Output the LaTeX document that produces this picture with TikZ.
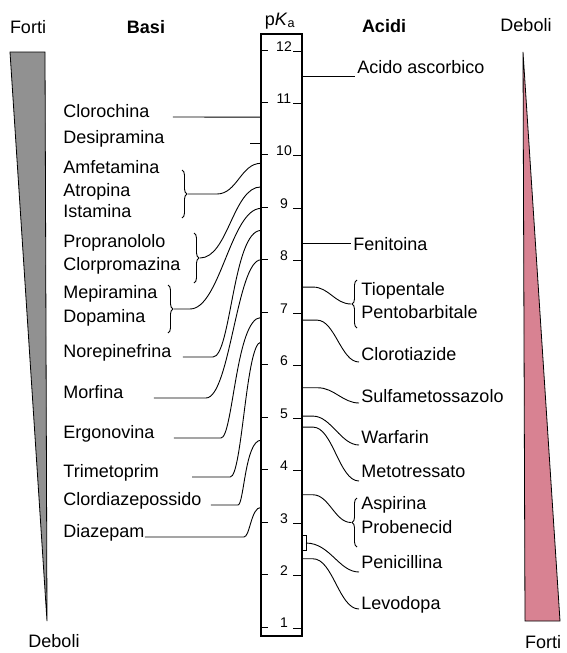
\documentclass[tikz,border=0pt]{standalone}
\usepackage{fontspec}
\setmainfont{Liberation Sans}
\usetikzlibrary{decorations.pathreplacing}
\definecolor{basegray}{RGB}{145,145,145}
\definecolor{acidpink}{RGB}{216,130,146}
\newcommand{\pky}[1]{50+(12-#1)*52.45}

\begin{document}
\begin{tikzpicture}[x=1pt, y=-1pt, line width=0.9pt,
  lbl/.style={anchor=base west, inner sep=2pt, font=\fontsize{18}{22}\selectfont},
  head/.style={anchor=base, inner sep=0pt, font=\fontsize{18}{22}\selectfont},
  num/.style={anchor=base, inner sep=0pt, font=\fontsize{14}{16}\selectfont},
  curly/.style={decorate, decoration={brace, amplitude=5pt}}]
\useasboundingbox (0,0) rectangle (566,653);

% headers
\node[head] (forti-top) at (28,33) {Forti};
\node[head, font=\fontsize{18}{22}\selectfont\bfseries] (basi) at (146,33) {Basi};
\node[head] (pka) at (280,25) {p\textit{K}\textsubscript{a}};
\node[head, font=\fontsize{18}{22}\selectfont\bfseries] (acidi) at (384,32) {Acidi};
\node[head] (deboli-top) at (526,31) {Deboli};
\node[head] (deboli-bot) at (54,647) {Deboli};
\node[head] (forti-bot) at (543,648) {Forti};

% strength wedges
\draw[line width=0.8pt, fill=basegray] (10,52) -- (45,52) -- (47,621) -- cycle;
\draw[line width=0.8pt, fill=acidpink] (523,52) -- (560,621) -- (525,621) -- cycle;

% pKa scale
\node[draw, line width=1.3pt, inner sep=0pt, minimum width=41pt, minimum height=602pt] (scale) at (281.5,335) {};
\foreach \n in {1,...,12} {
  \draw (261,{\pky{\n}}) -- ++(7,0);
  \draw (293,{\pky{\n}+1}) -- ++(9,0);
  \node[num] at (284,{\pky{\n}+1}) {\n};
}

% points on the scale, bases
\coordinate (k-cloro) at (261,{\pky{10.72}});
\coordinate (k-desi) at (261,{\pky{10.22}});
\coordinate (k-amf) at (261,{\pky{9.84}});
\coordinate (k-prop) at (261,{\pky{9.39}});
\coordinate (k-mepi) at (261,{\pky{8.98}});
\coordinate (k-nore) at (261,{\pky{8.56}});
\coordinate (k-morf) at (261,{\pky{8.0}});
\coordinate (k-ergo) at (261,{\pky{6.9}});
\coordinate (k-trim) at (261,{\pky{6.43}});
\coordinate (k-clordia) at (261,{\pky{4.56}});
\coordinate (k-diaz) at (261,{\pky{3.28}});
% points on the scale, acids
\coordinate (k-asc) at (302,{\pky{11.5}});
\coordinate (k-fen) at (302,{\pky{8.32}});
\coordinate (k-tio) at (302,{\pky{7.48}});
\coordinate (k-clot) at (302,{\pky{6.85}});
\coordinate (k-sulfa) at (302,{\pky{5.56}});
\coordinate (k-warf) at (302,{\pky{5.02}});
\coordinate (k-meto) at (302,{\pky{4.81}});
\coordinate (k-asp) at (302,{\pky{3.52}});
\coordinate (k-peni) at (306,{\pky{2.6}});
\coordinate (k-levo) at (302,{\pky{2.3}});

% bases
\node[lbl] (cloro) at (61,117) {Clorochina};
\node[lbl] (desi) at (61,143) {Desipramina};
\node[lbl] (amf) at (61,173) {Amfetamina};
\node[lbl] (atro) at (61,196) {Atropina};
\node[lbl] (ista) at (61,217) {Istamina};
\node[lbl] (prop) at (61,247) {Propranololo};
\node[lbl] (clorp) at (61,270) {Clorpromazina};
\node[lbl] (mepi) at (61,298) {Mepiramina};
\node[lbl] (dopa) at (61,322) {Dopamina};
\node[lbl] (nore) at (61,357) {Norepinefrina};
\node[lbl] (morf) at (61,398) {Morfina};
\node[lbl] (ergo) at (61,438) {Ergonovina};
\node[lbl] (trim) at (61,477) {Trimetoprim};
\node[lbl] (clordia) at (61,505) {Clordiazepossido};
\node[lbl] (diaz) at (61,537) {Diazepam};

\draw[curly] (182,170) -- (182,218);
\coordinate (amf-tip) at (188,194);
\draw[curly] (194,233) -- (194,283);
\coordinate (prop-tip) at (200,258);
\draw[curly] (168,285) -- (168,333);
\coordinate (mepi-tip) at (174,309);

\draw ([xshift=21pt]cloro.base east) -- (k-cloro);
\draw (k-desi) -- ++(-11,0);
\draw (amf-tip) -- ++(29,0) .. controls +(20,0) and +(-20,0) .. (k-amf);
\draw (prop-tip) .. controls +(28,0) and +(-28,0) .. (k-prop);
\draw (mepi-tip) -- ++(16,0) .. controls +(30,0) and +(-30,0) .. (k-mepi);
\draw ([xshift=9pt]nore.base east) -- ++(30,0) .. controls +(18,0) and +(-28,0) .. (k-nore);
\draw ([xshift=28pt]morf.base east) -- ++(52,0) .. controls +(24,0) and +(-24,0) .. (k-morf);
\draw ([xshift=17pt]ergo.base east) -- ++(47,0) .. controls +(12,0) and +(-25,0) .. (k-ergo);
\draw ([xshift=31pt]trim.base east) -- ++(38,0) .. controls +(12,0) and +(-15,0) .. (k-trim);
\draw ([xshift=7pt]clordia.base east) -- ++(27,0) .. controls +(6,0) and +(-16,0) .. (k-clordia);
\draw ([xshift=-2pt]diaz.base east) -- ++(99,0) .. controls +(6,0) and +(-10,0) .. (k-diaz);

% acids
\node[lbl] (asc) at (355,73) {Acido ascorbico};
\node[lbl] (fen) at (351,250) {Fenitoina};
\node[lbl] (tio) at (359,295) {Tiopentale};
\node[lbl] (pento) at (359,318) {Pentobarbitale};
\node[lbl] (clot) at (359,360) {Clorotiazide};
\node[lbl] (sulfa) at (359,402) {Sulfametossazolo};
\node[lbl] (warf) at (359,443) {Warfarin};
\node[lbl] (meto) at (359,477) {Metotressato};
\node[lbl] (asp) at (359,509) {Aspirina};
\node[lbl] (prob) at (359,533) {Probenecid};
\node[lbl] (peni) at (359,568) {Penicillina};
\node[lbl] (levo) at (359,609) {Levodopa};

\draw[curly] (357,328) -- (357,280);
\coordinate (tio-tip) at (351,304);
\draw[curly] (357,547) -- (357,498);
\coordinate (asp-tip) at (351,522.5);
\draw (302,{\pky{2.75}}) -| (306,{\pky{2.45}}) -- (302,{\pky{2.45}});

\draw (k-asc) -- (k-asc -| asc.west);
\draw (k-fen) -- (k-fen -| fen.west);
\draw (k-tio) -- ++(11,0) .. controls +(16,0) and +(-16,0) .. (tio-tip);
\draw (k-clot) -- ++(15,0) .. controls +(18,0) and +(-18,0) .. ([yshift=-2pt]clot.base west);
\draw (k-sulfa) -- ++(16,0) .. controls +(16,0) and +(-16,0) .. ([yshift=-1pt]sulfa.base west);
\draw (k-warf) -- ++(11,0) .. controls +(18,0) and +(-18,0) .. ([yshift=-2pt]warf.base west);
\draw (k-meto) -- ++(11,0) .. controls +(20,0) and +(-20,0) .. ([yshift=-4pt]meto.base west);
\draw (k-asp) -- ++(11,0) .. controls +(16,0) and +(-16,0) .. (asp-tip);
\draw (k-peni) .. controls +(24,0) and +(-20,0) .. ([yshift=-4pt]peni.base west);
\draw (k-levo) -- ++(11,0) .. controls +(20,0) and +(-20,0) .. (levo.base west);
\end{tikzpicture}
\end{document}
